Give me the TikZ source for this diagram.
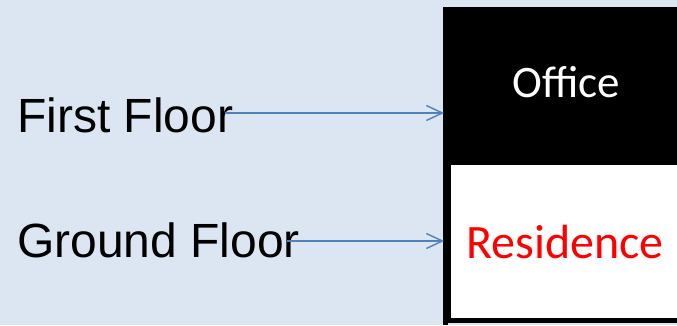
\documentclass[tikz,border=0pt]{standalone}
\usepackage{fontspec}
\setmainfont{Liberation Sans}
\newfontfamily\calfont{Carlito}
\usetikzlibrary{arrows.meta}
\definecolor{bgblue}{RGB}{220,230,242}
\definecolor{arrblue}{RGB}{79,129,189}
\definecolor{resred}{RGB}{255,0,0}
\tikzset{
  floorlabel/.style={anchor=base west, inner sep=0pt, font=\fontsize{48pt}{50pt}\selectfont, text=black},
  conn/.style={draw=arrblue, line width=1.4pt, -{Straight Barb[length=16pt,width=15pt,line width=1.4pt]}},
}
\begin{document}
\begin{tikzpicture}[x=1pt,y=1pt]
\useasboundingbox (0,0) rectangle (677,325);
\fill[bgblue] (0,0) rectangle (677,325);
% boxes
\node[fill=black, draw=none, inner sep=0pt, minimum width=260pt, minimum height=160pt, anchor=north west] (office) at (443,318) {};
\node[fill=white, draw=black, line width=5pt, inner sep=0pt, minimum width=270pt, minimum height=158pt, anchor=south west] (residence) at (445.5,2.5) {};
\fill[black] (443,0) rectangle (448,165);
% box texts
\node[anchor=base, inner sep=0pt, font=\calfont\fontsize{45pt}{48pt}\selectfont, text=white] (officetext) at (566,228) {Office};
\node[anchor=base, inner sep=0pt, font=\calfont\fontsize{48pt}{50pt}\selectfont, text=resred] (restext) at (565,67) {Residence};
% floor labels
\node[floorlabel] (first) at (17,193) {First Floor};
\node[floorlabel] (ground) at (17,68) {Ground Floor};
% connectors
\coordinate (s1) at (225,212);
\coordinate (s2) at (287,84);
\coordinate (e1) at (444,212);
\coordinate (e2) at (444,84);
\draw[conn] (s1) -- (e1);
\draw[conn] (s2) -- (e2);
\end{tikzpicture}
\end{document}
